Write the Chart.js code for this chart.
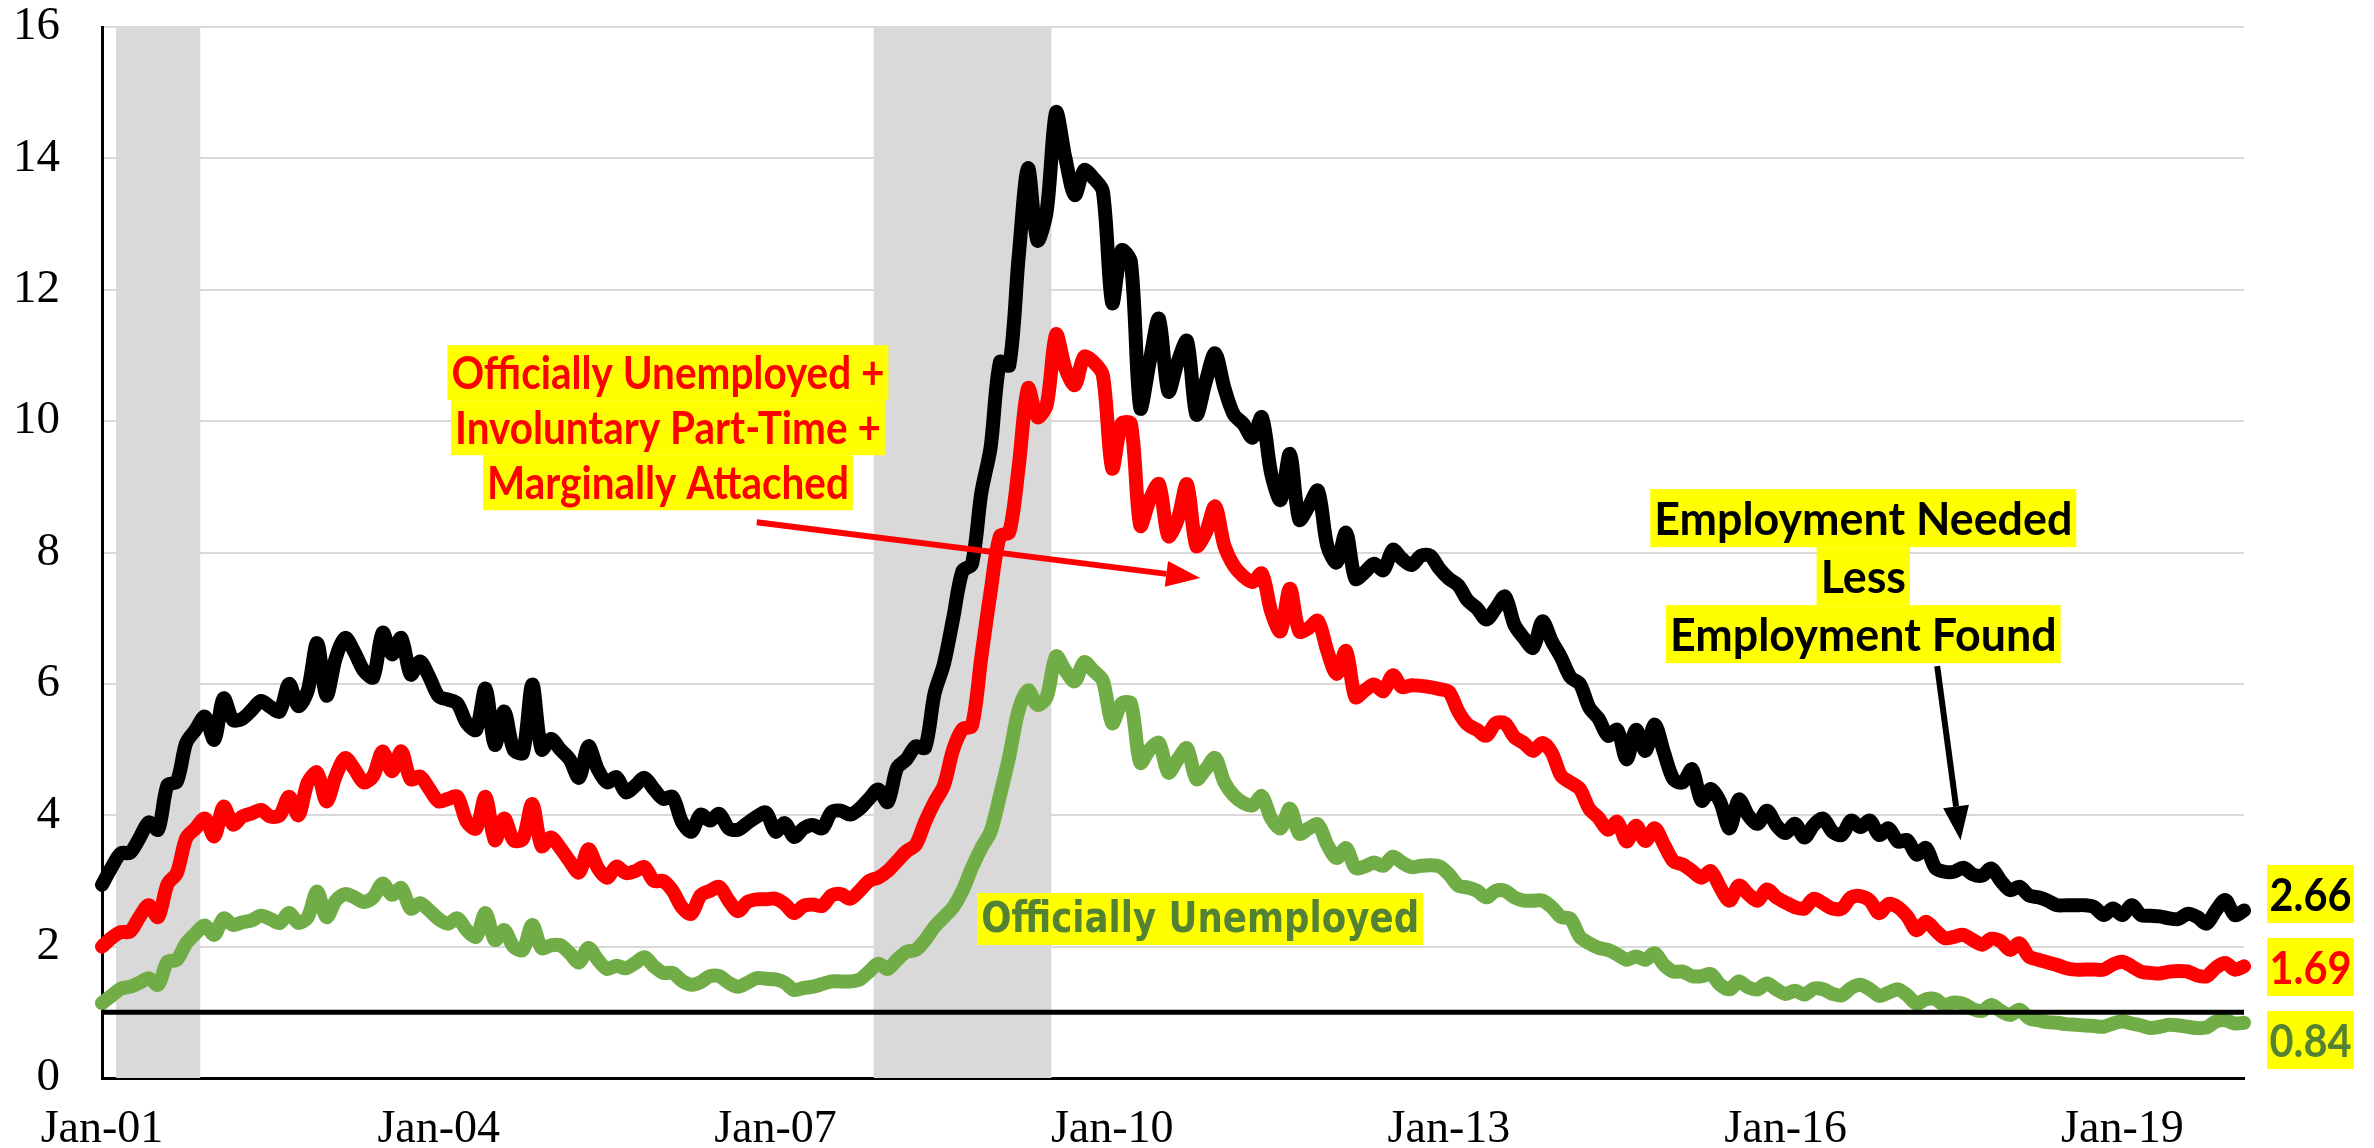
<!DOCTYPE html>
<html>
<head>
<meta charset="utf-8">
<script src="https://cdn.jsdelivr.net/npm/chart.js@4.4.1/dist/chart.umd.min.js"></script>
<style>
  html, body { margin: 0; padding: 0; background: #fff; }
  #wrap { width: 2374px; height: 1148px; }
</style>
</head>
<body>
<div id="wrap"><canvas id="grafico"></canvas></div>
<script>
// monthly values, Jan-01 .. Feb-20
const employmentGap = [
    2.94, 3.2, 3.42, 3.43, 3.65, 3.89, 3.78, 4.46, 4.51, 5.10,
    5.30, 5.50, 5.15, 5.78, 5.45, 5.47, 5.6, 5.74, 5.65, 5.58,
    6.0, 5.66, 5.9, 6.62, 5.82, 6.4, 6.7, 6.48, 6.2, 6.1,
    6.78, 6.45, 6.70, 6.14, 6.34, 6.1, 5.81, 5.76, 5.7, 5.4,
    5.3, 5.93, 5.07, 5.58, 5.0, 4.95, 5.99, 5.0, 5.16, 5.0,
    4.85, 4.57, 5.05, 4.7, 4.5, 4.58, 4.35, 4.45, 4.57, 4.4,
    4.25, 4.28, 3.9, 3.75, 4.01, 3.92, 4.02, 3.8, 3.78, 3.88,
    3.98, 4.04, 3.75, 3.88, 3.67, 3.8, 3.85, 3.8, 4.05, 4.07,
    4.01, 4.1, 4.25, 4.39, 4.2, 4.72, 4.85, 5.05, 5.03, 5.85,
    6.3, 7.0, 7.72, 7.82, 8.9, 9.6, 10.9, 10.85, 12.5, 13.85,
    12.75, 13.2, 14.7, 14.0, 13.44, 13.82, 13.7, 13.5, 11.8, 12.6,
    12.42, 10.2, 10.9, 11.56, 10.45, 10.9, 11.22, 10.1, 10.6, 11.03,
    10.5, 10.1, 9.96, 9.75, 10.06, 9.2, 8.8, 9.5, 8.5, 8.7,
    8.94, 8.1, 7.85, 8.3, 7.6, 7.7, 7.83, 7.73, 8.04, 7.9,
    7.81, 7.95, 7.95, 7.75, 7.6, 7.5, 7.27, 7.15, 6.98, 7.15,
    7.33, 6.9, 6.7, 6.55, 6.95, 6.65, 6.4, 6.1, 6.0, 5.64,
    5.47, 5.21, 5.3, 4.85, 5.3, 4.98, 5.38, 4.95, 4.55, 4.5,
    4.7, 4.22, 4.4, 4.2, 3.8, 4.24, 4.0, 3.87, 4.07, 3.85,
    3.73, 3.87, 3.66, 3.85, 3.95, 3.75, 3.7, 3.92, 3.82, 3.92,
    3.7, 3.8, 3.6, 3.62, 3.4, 3.5, 3.2, 3.14, 3.14, 3.2,
    3.1, 3.08, 3.19, 3.0, 2.86, 2.91, 2.78, 2.75, 2.7, 2.63,
    2.63, 2.63, 2.63, 2.6, 2.48, 2.58, 2.48, 2.63, 2.48, 2.47,
    2.46, 2.43, 2.42, 2.5, 2.45, 2.35, 2.55, 2.71, 2.48, 2.55
];

const broadUnemployed = [
    2.0, 2.13, 2.22, 2.23, 2.45, 2.63, 2.45, 2.95, 3.12, 3.65,
    3.8, 3.95, 3.68, 4.13, 3.86, 3.98, 4.03, 4.08, 3.98, 4.0,
    4.28, 4.0, 4.5, 4.65, 4.21, 4.6, 4.87, 4.7, 4.5, 4.6,
    4.97, 4.67, 4.97, 4.55, 4.59, 4.4, 4.21, 4.25, 4.28, 3.9,
    3.8, 4.28, 3.62, 3.95, 3.62, 3.64, 4.17, 3.53, 3.66, 3.5,
    3.3, 3.13, 3.48, 3.2, 3.05, 3.22, 3.12, 3.15, 3.21, 3.0,
    3.0, 2.85, 2.6, 2.5, 2.78, 2.85, 2.91, 2.7, 2.54, 2.68,
    2.72, 2.72, 2.73, 2.65, 2.51, 2.62, 2.64, 2.62, 2.78, 2.8,
    2.73, 2.85, 3.0, 3.05, 3.15, 3.3, 3.45, 3.55, 3.9, 4.2,
    4.45, 5.0, 5.31, 5.36, 6.4, 7.4, 8.25, 8.31, 9.3, 10.5,
    10.06, 10.25, 11.32, 10.8, 10.55, 10.98, 10.9, 10.7, 9.28, 9.96,
    9.96, 8.41, 8.8, 9.04, 8.25, 8.5, 9.04, 8.1, 8.3, 8.7,
    8.1, 7.8, 7.64, 7.55, 7.68, 7.1, 6.8, 7.45, 6.8, 6.85,
    6.96, 6.5, 6.15, 6.5, 5.8, 5.9, 5.99, 5.89, 6.13, 5.95,
    5.98, 5.97, 5.95, 5.92, 5.88, 5.58, 5.38, 5.3, 5.21, 5.4,
    5.4, 5.19, 5.1, 4.98, 5.1, 4.95, 4.6, 4.5, 4.4, 4.1,
    3.96, 3.78, 3.9, 3.6, 3.84, 3.61, 3.8, 3.55, 3.3, 3.25,
    3.15, 3.05, 3.15, 2.9, 2.7, 2.93, 2.8, 2.7, 2.87, 2.75,
    2.67, 2.6, 2.58, 2.73, 2.66, 2.58, 2.58, 2.75, 2.77, 2.7,
    2.51, 2.65, 2.6, 2.46, 2.25, 2.38, 2.25, 2.13, 2.15, 2.18,
    2.1, 2.03, 2.12, 2.08, 1.95, 2.05, 1.85, 1.8, 1.76, 1.72,
    1.67, 1.65, 1.65, 1.65, 1.65, 1.73, 1.77, 1.7, 1.62, 1.6,
    1.59, 1.62, 1.63, 1.62, 1.56, 1.55, 1.68, 1.75, 1.65, 1.7
];

const officialUnemployed = [
    1.14, 1.25, 1.36, 1.39, 1.45, 1.52, 1.42, 1.77, 1.80, 2.05,
    2.2, 2.32, 2.18, 2.43, 2.33, 2.37, 2.4, 2.47, 2.42, 2.36,
    2.51, 2.36, 2.45, 2.84, 2.45, 2.7, 2.8, 2.75, 2.68, 2.75,
    2.96, 2.79, 2.89, 2.58, 2.66, 2.55, 2.42, 2.35, 2.43, 2.25,
    2.15, 2.51, 2.10, 2.25, 2.0, 1.95, 2.33, 1.98, 2.02, 2.02,
    1.9, 1.76, 1.98, 1.8, 1.66, 1.71, 1.67, 1.75, 1.84, 1.7,
    1.6, 1.6, 1.48, 1.42, 1.46, 1.55, 1.55, 1.45, 1.39, 1.45,
    1.52, 1.51, 1.5, 1.45, 1.34, 1.37, 1.39, 1.43, 1.47, 1.47,
    1.47, 1.5, 1.62, 1.74, 1.66, 1.8, 1.92, 1.95, 2.1, 2.3,
    2.45, 2.6, 2.85, 3.2, 3.5, 3.75, 4.3, 4.9, 5.6, 5.9,
    5.68, 5.8, 6.42, 6.2, 6.04, 6.33, 6.2, 6.05, 5.4, 5.7,
    5.7, 4.8, 5.0, 5.1, 4.65, 4.85, 5.02, 4.55, 4.7, 4.87,
    4.5, 4.3, 4.19, 4.15, 4.29, 3.95, 3.8, 4.1, 3.72, 3.8,
    3.86, 3.55, 3.35, 3.5, 3.2, 3.22, 3.28, 3.23, 3.37, 3.28,
    3.21, 3.23, 3.24, 3.22, 3.1, 2.93, 2.9, 2.85, 2.75, 2.85,
    2.85, 2.75, 2.7, 2.7, 2.7, 2.6, 2.45, 2.42, 2.15, 2.05,
    1.98, 1.95, 1.88, 1.8, 1.85, 1.8, 1.9, 1.72, 1.62, 1.62,
    1.55, 1.55, 1.58, 1.42, 1.35, 1.47, 1.38, 1.35, 1.44, 1.35,
    1.28, 1.33, 1.27, 1.36, 1.35, 1.28, 1.26, 1.37, 1.42, 1.35,
    1.25, 1.3, 1.35, 1.26, 1.13, 1.2, 1.2, 1.11, 1.15, 1.13,
    1.05, 1.02, 1.11, 1.02, 0.96, 1.04, 0.91, 0.88, 0.85, 0.84,
    0.82, 0.81, 0.8, 0.79, 0.78, 0.83, 0.86, 0.83, 0.8, 0.76,
    0.78, 0.81, 0.8, 0.78, 0.76, 0.77, 0.86, 0.88, 0.83, 0.84
];

const tickLabels = ['Jan-01', 'Jan-04', 'Jan-07', 'Jan-10', 'Jan-13', 'Jan-16', 'Jan-19'];
const yTicks = [0, 2, 4, 6, 8, 10, 12, 14, 16];
const recessions = [['Mar-01', 'Nov-01'], ['Dec-07', 'Jun-09']];
const refLevel = 1;
const endLabels = ['2.66', '1.69', '0.84'];

// month categories Jan-01 ...
const monthNames = ['Jan', 'Feb', 'Mar', 'Apr', 'May', 'Jun', 'Jul', 'Aug', 'Sep', 'Oct', 'Nov', 'Dec'];
const months = [];
for (let i = 0; i < employmentGap.length; i++) {
    const yy = 1 + Math.floor(i / 12);
    months.push(monthNames[i % 12] + '-' + String(yy).padStart(2, '0'));
}

const YELLOW = '#FFFF00';
const RED = '#FF0000';
const GREEN = '#70AD47';
const DARKGREEN = '#548235';

// text boxes placed in data space (month index, value)
const notes = [
    { lines: ['Officially Unemployed +', 'Involuntary Part-Time +', 'Marginally Attached'],
      m: 60.5, v: 9.9, color: RED, family: 'Lato', size: 45, width: 433, lineH: 55 },
    { lines: ['Employment Needed', 'Less', 'Employment Found'],
      m: 188.3, v: 7.64, color: '#000', family: 'Lato', size: 46, width: 418, lineH: 58 },
    { lines: ['Officially Unemployed'],
      m: 117.4, v: 2.42, color: DARKGREEN, family: 'DejaVu Sans', size: 42, width: 438, lineH: 52 }
];

const arrows = [
    { from: [70.0, 8.46], to: [117.4, 7.61], color: RED },
    { from: [196.2, 6.27], to: [198.7, 3.62], color: '#000' }
];

// draws text squeezed to a target width (Calibri is narrower than what we have)
function squeezedText(ctx, text, x, y, sx) {
    ctx.save();
    ctx.translate(x, y);
    ctx.scale(sx, 1);
    ctx.fillText(text, 0, 0);
    ctx.restore();
}

function drawArrow(ctx, x1, y1, x2, y2, color) {
    const headLen = 34, headHalf = 13;
    const ang = Math.atan2(y2 - y1, x2 - x1);
    const bx = x2 - headLen * Math.cos(ang);
    const by = y2 - headLen * Math.sin(ang);
    ctx.strokeStyle = color;
    ctx.lineWidth = 6;
    ctx.lineCap = 'butt';
    ctx.beginPath();
    ctx.moveTo(x1, y1);
    ctx.lineTo(bx, by);
    ctx.stroke();
    ctx.fillStyle = color;
    ctx.beginPath();
    ctx.moveTo(x2, y2);
    ctx.lineTo(bx + headHalf * Math.sin(ang), by - headHalf * Math.cos(ang));
    ctx.lineTo(bx - headHalf * Math.sin(ang), by + headHalf * Math.cos(ang));
    ctx.closePath();
    ctx.fill();
}

// recession bars, behind the lines
const shadingPlugin = {
    id: 'shading',
    beforeDatasetsDraw(chart) {
        const { ctx, chartArea, scales } = chart;
        const step = scales.x.getPixelForValue(1) - scales.x.getPixelForValue(0);
        ctx.save();
        ctx.fillStyle = '#D9D9D9';
        recessions.forEach(([a, b]) => {
            const x1 = scales.x.getPixelForValue(months.indexOf(a)) - step / 2;
            const x2 = scales.x.getPixelForValue(months.indexOf(b)) + step / 2;
            ctx.fillRect(x1, chartArea.top, x2 - x1, chartArea.bottom - chartArea.top);
        });
        ctx.restore();
    }
};

const notesPlugin = {
    id: 'notes',
    afterDatasetsDraw(chart) {
        const { ctx, chartArea, scales } = chart;
        const px = (m) => scales.x.getPixelForValue(m);
        const py = (v) => scales.y.getPixelForValue(v);
        ctx.save();

        // line at 1
        ctx.strokeStyle = '#000';
        ctx.lineWidth = 5;
        ctx.beginPath();
        ctx.moveTo(chartArea.left, py(refLevel));
        ctx.lineTo(chartArea.right, py(refLevel));
        ctx.stroke();

        arrows.forEach(a => {
            drawArrow(ctx, px(a.from[0]), py(a.from[1]), px(a.to[0]), py(a.to[1]), a.color);
        });

        ctx.textAlign = 'center';
        ctx.textBaseline = 'middle';
        notes.forEach(n => {
            ctx.font = `bold ${n.size}px "${n.family}"`;
            const widest = Math.max(...n.lines.map(t => ctx.measureText(t).width));
            const sx = n.width / widest;
            const cx = px(n.m);
            const cy = py(n.v);
            const top = cy - n.lines.length * n.lineH / 2;
            n.lines.forEach((t, i) => {
                const w = ctx.measureText(t).width * sx;
                const y = top + i * n.lineH;
                ctx.fillStyle = YELLOW;
                ctx.fillRect(cx - w / 2 - 4, y, w + 8, n.lineH);
                ctx.fillStyle = n.color;
                squeezedText(ctx, t, cx, y + n.lineH / 2 + 2, sx);
            });
        });

        // last values at right side
        const colors = ['#000', RED, DARKGREEN];
        ctx.font = 'bold 46px "Lato"';
        const sx = 82 / ctx.measureText('2.66').width;
        const boxX = chartArea.right + 23;
        const ys = [894, 967, 1040];
        endLabels.forEach((t, i) => {
            ctx.fillStyle = YELLOW;
            ctx.fillRect(boxX, ys[i] - 29, 87, 58);
            ctx.fillStyle = colors[i];
            squeezedText(ctx, t, boxX + 43.5, ys[i] + 2, sx);
        });
        ctx.restore();
    }
};

const ctx = document.getElementById('grafico').getContext('2d');
const serie = (data, color) => ({
    data: data,
    borderColor: color,
    backgroundColor: color,
    borderWidth: 14,
    pointRadius: 0,
    tension: 0.3,
    borderJoinStyle: 'round',
    borderCapStyle: 'round',
    fill: false
});

new Chart(ctx, {
    type: 'line',
    data: {
        labels: months,
        datasets: [
            serie(officialUnemployed, GREEN),
            serie(broadUnemployed, RED),
            serie(employmentGap, '#000')
        ]
    },
    options: {
        responsive: true,
        maintainAspectRatio: false,
        animation: false,
        devicePixelRatio: 1,
        layout: { padding: { left: 0, top: 27, right: 130, bottom: 0 } },
        plugins: { legend: { display: false }, tooltip: { enabled: false } },
        scales: {
            x: {
                type: 'category',
                offset: false,
                afterFit: (s) => { s.height = 70; },
                grid: { display: true, color: 'rgba(0,0,0,0)', drawTicks: false },
                border: { display: true, color: '#000', width: 3 },
                ticks: {
                    autoSkip: false,
                    maxRotation: 0,
                    padding: 24,
                    color: '#000',
                    font: { family: 'Liberation Serif', size: 46 },
                    callback: function (val) {
                        const lab = this.getLabelForValue(val);
                        return tickLabels.includes(lab) ? lab : null;
                    }
                }
            },
            y: {
                min: 0,
                max: 16,
                afterFit: (s) => {
                    s.width = 102;
                    s.paddingTop = 0;
                    s.paddingBottom = 0;
                },
                afterBuildTicks: (s) => { s.ticks = yTicks.map(v => ({ value: v })); },
                grid: { color: '#D9D9D9', lineWidth: 2, drawTicks: false },
                border: { display: true, color: '#000', width: 3 },
                ticks: {
                    padding: 42,
                    color: '#000',
                    font: { family: 'Liberation Serif', size: 47 }
                }
            }
        }
    },
    plugins: [shadingPlugin, notesPlugin]
});
</script>
</body>
</html>
